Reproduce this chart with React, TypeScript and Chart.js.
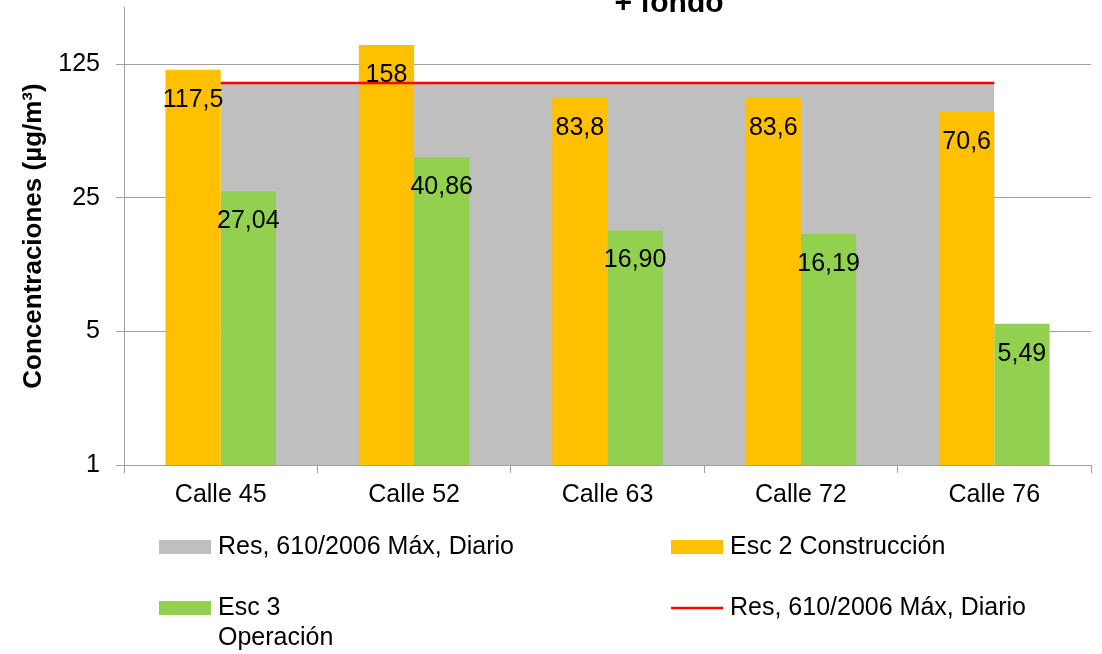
import React, { useEffect, useRef } from 'react';
import { Chart, registerables } from 'chart.js';

Chart.register(...registerables);

// ---- data ----
const categories = ['Calle 45', 'Calle 52', 'Calle 63', 'Calle 72', 'Calle 76'];
const esc2Construccion = [117.5, 158, 83.8, 83.6, 70.6];
const esc3Operacion = [27.04, 40.86, 16.9, 16.19, 5.49];
const resMaxDiario = [100, 100, 100, 100, 100];
const yTicks = [1, 5, 25, 125];
const yMin = 1;
const yMax = 250;
const titleText = '+ fondo';
const yAxisTitle = 'Concentraciones (µg/m³)';
const areaLabel = 'Res, 610/2006 Máx, Diario';
const esc2Label = 'Esc 2 Construcción';
const esc3Label = 'Esc 3 Operación';
const lineLabel = 'Res, 610/2006 Máx, Diario';

// ---- styles ----
const FONT = '"Liberation Sans", Arial, Helvetica, sans-serif';
const GRID = '#A0A0A0';
const GRAY = '#BFBFBF';
const ORANGE = '#FFC000';
const GREEN = '#92D050';
const RED = '#FF0000';

const fmtEsc2 = (v: number) => String(v).replace('.', ',');
const fmtEsc3 = (v: number) => v.toFixed(2).replace('.', ',');

export default function App() {
  const ref = useRef<HTMLCanvasElement>(null);

  useEffect(() => {
    const canvas = ref.current;
    if (!canvas) return;

    const titlePlugin = {
      id: 'topTitle',
      afterDraw(chart: any) {
        const ctx = chart.ctx;
        ctx.save();
        ctx.font = `bold 30px ${FONT}`;
        ctx.fillStyle = '#000';
        ctx.textAlign = 'center';
        ctx.textBaseline = 'alphabetic';
        ctx.fillText(titleText, 669, 12);
        ctx.restore();
      },
    };

    const labelPlugin = {
      id: 'barLabels',
      afterDatasetsDraw(chart: any) {
        const ctx = chart.ctx;
        ctx.save();
        ctx.font = `25px ${FONT}`;
        ctx.fillStyle = '#000';
        ctx.textAlign = 'center';
        ctx.textBaseline = 'middle';
        chart.data.datasets.forEach((ds: any, di: number) => {
          if (!ds.valueFormat) return;
          const meta = chart.getDatasetMeta(di);
          meta.data.forEach((el: any, i: number) => {
            ctx.fillText(ds.valueFormat(ds.data[i]), el.x, el.y + 30);
          });
        });
        ctx.restore();
      },
    };

    const legendPlugin = {
      id: 'customLegend',
      afterDraw(chart: any) {
        const ctx = chart.ctx;
        const ds = chart.data.datasets;
        const items = [
          { d: ds[3], x: 159, y: 547, kind: 'box' },
          { d: ds[0], x: 671, y: 547, kind: 'box' },
          { d: ds[1], x: 159, y: 608, kind: 'box', maxWidth: 120 },
          { d: ds[2], x: 671, y: 608, kind: 'line' },
        ];
        ctx.save();
        ctx.font = `25px ${FONT}`;
        ctx.fillStyle = '#000';
        ctx.textAlign = 'left';
        ctx.textBaseline = 'middle';
        items.forEach((it: any) => {
          if (it.kind === 'box') {
            ctx.fillStyle = it.d.backgroundColor;
            ctx.fillRect(it.x, it.y - 7, 52, 14);
          } else {
            ctx.strokeStyle = it.d.borderColor;
            ctx.lineWidth = 2.5;
            ctx.beginPath();
            ctx.moveTo(it.x, it.y);
            ctx.lineTo(it.x + 52, it.y);
            ctx.stroke();
          }
          ctx.fillStyle = '#000';
          const words = String(it.d.label).split(' ');
          const lines: string[] = [];
          if (it.maxWidth) {
            let cur = '';
            words.forEach((w) => {
              const test = cur ? cur + ' ' + w : w;
              if (cur && ctx.measureText(test).width > it.maxWidth) {
                lines.push(cur);
                cur = w;
              } else cur = test;
            });
            if (cur) lines.push(cur);
          } else lines.push(String(it.d.label));
          lines.forEach((ln, li) => ctx.fillText(ln, it.x + 59, it.y + li * 30));
        });
        ctx.restore();
      },
    };

    const chart = new Chart(canvas, {
      type: 'bar',
      data: {
        labels: categories,
        datasets: [
          {
            type: 'bar',
            label: esc2Label,
            data: esc2Construccion,
            backgroundColor: ORANGE,
            borderWidth: 0,
            categoryPercentage: 2 / 3.5,
            barPercentage: 1,
            order: 1,
            valueFormat: fmtEsc2,
          } as any,
          {
            type: 'bar',
            label: esc3Label,
            data: esc3Operacion,
            backgroundColor: GREEN,
            borderWidth: 0,
            categoryPercentage: 2 / 3.5,
            barPercentage: 1,
            order: 1,
            valueFormat: fmtEsc3,
          } as any,
          {
            type: 'line',
            label: lineLabel,
            data: resMaxDiario,
            borderColor: RED,
            borderWidth: 2.5,
            pointRadius: 0,
            fill: false,
            order: 0,
          } as any,
          {
            type: 'line',
            label: areaLabel,
            data: resMaxDiario,
            backgroundColor: GRAY,
            borderColor: GRAY,
            borderWidth: 0,
            pointRadius: 0,
            fill: 'start',
            order: 2,
          } as any,
        ],
      },
      options: {
        responsive: false,
        animation: false,
        events: [],
        layout: { padding: { left: 0, top: 7, right: 11, bottom: 129 } },
        plugins: {
          legend: { display: false },
          tooltip: { enabled: false },
          title: { display: false },
        },
        scales: {
          x: {
            type: 'category',
            offset: true,
            grid: {
              drawOnChartArea: false,
              drawTicks: true,
              tickLength: 8,
              offset: true,
              color: GRID,
              lineWidth: 1,
            },
            border: { display: true, color: GRID, width: 1 },
            ticks: {
              color: '#000',
              font: { family: FONT, size: 25 },
              padding: 7,
              maxRotation: 0,
              autoSkip: false,
            },
            afterFit(s: any) {
              s.height = 60;
              s.paddingLeft = 0;
              s.paddingRight = 0;
            },
          },
          y: {
            type: 'logarithmic',
            min: yMin,
            max: yMax,
            afterBuildTicks(s: any) {
              s.ticks = yTicks.map((v) => ({ value: v }));
            },
            grid: {
              color: GRID,
              lineWidth: 1,
              drawTicks: true,
              tickLength: 8,
            },
            border: { display: true, color: GRID, width: 1 },
            ticks: {
              color: '#000',
              font: { family: FONT, size: 25 },
              padding: 16,
              autoSkip: false,
              callback: (v: any) => String(v),
            },
            title: {
              display: true,
              text: yAxisTitle,
              color: '#000',
              font: { family: FONT, size: 26, weight: 'bold' },
              padding: { top: 18, bottom: 0 },
            },
            afterFit(s: any) {
              s.width = 124;
              s.paddingTop = 0;
              s.paddingBottom = 0;
            },
          },
        },
      } as any,
      plugins: [titlePlugin, labelPlugin, legendPlugin],
    });

    return () => chart.destroy();
  }, []);

  return (
    <div style={{ position: 'fixed', left: 0, top: 0, width: 1102, height: 654, background: '#fff' }}>
      <canvas ref={ref} width={1102} height={654} style={{ display: 'block', width: 1102, height: 654 }} />
    </div>
  );
}
